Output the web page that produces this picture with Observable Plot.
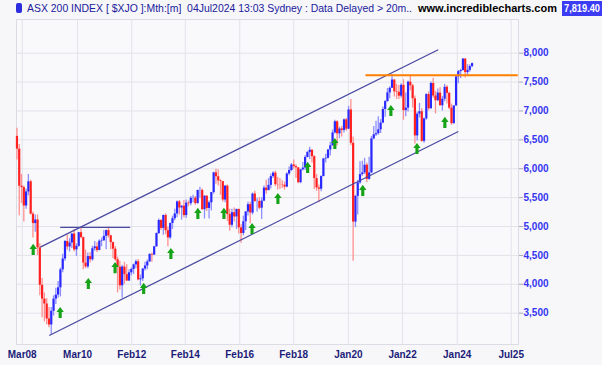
<!DOCTYPE html>
<html><head><meta charset="utf-8">
<script src="https://cdn.jsdelivr.net/npm/d3@7"></script>
<script src="https://cdn.jsdelivr.net/npm/@observablehq/plot@0.6"></script>
<style>
html,body{margin:0;padding:0;background:#f7f7fa;}
#wrap{position:relative;width:602px;height:365px;overflow:hidden;font-family:"Liberation Sans",Arial,sans-serif;}
#hdr{position:absolute;left:0;top:0;width:602px;height:18px;}
#hdr .a{position:absolute;white-space:nowrap;transform-origin:0 50%;display:block;}
#chart{position:absolute;left:0;top:18px;}
</style></head><body>
<div id="wrap">
 <div id="hdr">
  <span class="a" id="mk" style="left:16px;top:3px;width:6px;height:10px;background:#2d2de0;border-radius:2px"></span>
  <span class="a" id="t1" style="left:27px;top:2px;font-size:11px;line-height:13px;color:#20209a">ASX 200 INDEX [ $XJO ]:Mth:[m]&nbsp; 04Jul2024 13:03 Sydney : Data Delayed &gt; 20m..</span>
  <span class="a" id="t2" style="left:418px;top:2px;font-size:11px;line-height:13px;font-weight:bold;color:#000">www.incrediblecharts.com</span>
  <span class="a" id="box" style="left:562px;top:1px;height:15px;width:40px;background:#3c3cf5"></span>
  <span class="a" id="t3" style="left:564px;top:2px;color:#fff;font-size:11px;font-weight:bold;line-height:13px">7,819.40</span>
 </div>
 <div id="chart"></div>
</div>
<script>
// ---- Data: monthly OHLC, ASX 200 ($XJO), Dec 2007 .. Jul 2024 (bar index 0 = Dec 2007) ----
const firstOpen = 6560;
const closes = [
 6340,
 5697,5674,5355,5598,5774,5215,5051,5113,4631,3983,3744,3659,
 3400,3296,3532,3744,3813,3939,4250,4438,4740,4646,4715,4870,
 4596,4657,4893,4808,4367,4301,4479,4424,4616,4647,4585,4746,
 4754,4830,4929,4839,4721,4608,4425,4296,3974,4298,4167,4057,
 4199,4258,4336,4390,4077,4095,4265,4317,4387,4517,4506,4649,
 4878,5104,4967,5191,4927,4803,5052,5135,5218,5426,5321,5352,
 5190,5405,5395,5489,5492,5396,5623,5625,5292,5526,5313,5411,
 5588,5929,5861,5790,5777,5459,5699,5207,5022,5239,5166,5296,
 4977,4880,5082,5252,5378,5233,5562,5433,5435,5317,5440,5665,
 5621,5712,5864,5924,5724,5721,5720,5715,5682,5909,5969,6065,
 6037,6016,5759,5982,6011,6195,6280,6320,6208,5830,5668,5646,
 5865,6169,6181,6325,6397,6619,6813,6604,6688,6663,6846,6684,
 7017,6441,5077,5522,5755,5898,5928,6061,5816,5927,6517,6587,
 6607,6673,6791,7025,7162,7313,7393,7535,7332,7324,7256,7444,
 7006,7049,7499,7435,7211,6568,6945,6987,6474,6863,7284,7039,
 7476,7258,7178,7309,7091,7203,7410,7305,7049,6781,7087,7590,
 7681,7699,7897,7664,7702,7768,7819
];
const highs = [
 6700,
 6420,5900,5700,5650,5900,5800,5250,5200,5200,4700,4100,3850,
 3750,3600,3600,3800,3930,4050,4280,4520,4760,4850,4790,4880,
 4950,4700,4900,4980,4820,4590,4540,4550,4660,4740,4720,4770,
 4800,4930,4940,4990,4850,4730,4650,4470,4400,4330,4380,4340,
 4250,4280,4350,4420,4430,4160,4270,4380,4420,4530,4540,4660,
 4890,5130,5120,5200,5220,4990,5060,5180,5300,5440,5450,5360,
 5450,5460,5440,5520,5540,5520,5630,5680,5650,5530,5530,5440,
 5590,5940,5990,5980,5810,5780,5710,5720,5300,5300,5320,5300,
 5300,5030,5180,5260,5420,5420,5580,5610,5490,5500,5500,5700,
 5800,5830,5910,5950,5960,5850,5830,5790,5770,5930,6030,6090,
 6150,6070,6020,5990,6110,6230,6300,6370,6330,6230,5900,5720,
 5880,6180,6250,6330,6460,6670,6840,6830,6720,6730,6860,6870,
 7080,7200,6550,5540,5800,6120,6130,6180,6100,6200,6560,6730,
 6820,6900,6850,7070,7180,7390,7420,7632,7540,7460,7440,7470,
 7540,7310,7520,7600,7460,7260,6980,7130,7040,6880,7300,7330,
 7500,7567,7340,7380,7400,7250,7460,7440,7330,7120,7090,7600,
 7700,7720,7910,7910,7800,7800,7830
];
const lows = [
 6150,
 5186,5400,5080,5300,5530,5200,4800,4900,4500,3800,3420,3350,
 3300,3250,3121,3450,3650,3760,3780,4200,4400,4590,4560,4620,
 4560,4480,4640,4790,4250,4270,4270,4370,4400,4570,4550,4580,
 4650,4740,4600,4800,4600,4440,4400,3850,3900,3760,4000,4050,
 4050,4150,4170,4270,4060,3970,4050,4230,4250,4380,4380,4500,
 4640,4860,4930,4850,4860,4650,4770,4950,5100,5150,5200,5110,
 5150,5140,5340,5360,5410,5370,5390,5490,5280,5130,5260,5130,
 5270,5560,5730,5700,5540,5420,5410,5090,4920,4980,5080,4950,
 4870,4710,4840,4930,5180,5050,5200,5420,5250,5290,5120,5430,
 5560,5620,5650,5830,5690,5630,5640,5660,5630,5670,5880,5950,
 5990,5830,5740,5740,5960,5970,6190,6160,6100,5640,5610,5410,
 5600,5860,6100,6170,6220,6390,6600,6400,6520,6550,6620,6650,
 6680,6400,4400,4980,5200,5730,5870,5900,5760,5800,5920,6500,
 6560,6580,6610,6780,6890,7150,7210,7390,7240,7200,7200,7220,
 6840,6900,6980,7350,7050,6430,6480,6880,6460,6440,6840,7000,
 7030,7220,6950,7160,7080,7000,7160,7120,7020,6750,6770,7080,
 7470,7560,7690,7570,7600,7670,7750
];

// x-axis tick labels and their bar positions
const tickLabels = ["Mar08","Mar10","Feb12","Feb14","Feb16","Feb18","Jan20","Jan22","Jan24","Jul25"];
const tickBars   = [2.3, 26.5, 50.2, 73.6, 97.4, 121, 144.9, 168.6, 192.5, 216.1];
const yTicks = [3500,4000,4500,5000,5500,6000,6500,7000,7500,8000];

// drawn trend lines (bar index, price)
const channelX1 = [10.2, 14.1, 18.9];
const channelY1 = [4642, 3114, 4984];
const channelX2 = [184.2, 193.0, 49.5];
const channelY2 = [8059, 6645, 4984];
const resistX = [152.6, 219.2];
const resistY = 7619;

// green buy arrows (bar index, price)
const arrowBar   = [7.1,18.9,31.2,42.9,55.4,67.3,79.1,90.5,102.8,114.1,127.1,139.0,151.2,163.5,174.9,187.1];
const arrowPrice = [4603,3512,4014,4290,3928,4533,5226,5226,4966,5485,6022,6437,5624,7008,6350,6801];

// ---- build tables ----
const bars = closes.map((c, i) => {
  const o = i === 0 ? firstOpen : closes[i - 1];
  return {i, o, h: highs[i], l: lows[i], c, up: c >= o};
});
const upBars = bars.filter(d => d.up), dnBars = bars.filter(d => !d.up);
const channels = channelX1.map((x1, k) => ({x1, y1: channelY1[k], x2: channelX2[k], y2: channelY2[k]}));
const resist = [{x1: resistX[0], x2: resistX[1], y: resistY}];
const arrows = arrowBar.map((x, k) => ({x, y: arrowPrice[k]}));
const labelMap = new Map(tickBars.map((t, k) => [t, tickLabels[k]]));

const arrowSymbol = {
  draw(ctx, size) {
    const r = Math.sqrt(size / Math.PI);
    ctx.moveTo(0, -r);
    ctx.lineTo(0.66 * r, -0.08 * r);
    ctx.lineTo(0.28 * r, -0.08 * r);
    ctx.lineTo(0.28 * r, r);
    ctx.lineTo(-0.28 * r, r);
    ctx.lineTo(-0.28 * r, -0.08 * r);
    ctx.lineTo(-0.66 * r, -0.08 * r);
    ctx.closePath();
  }
};

const chart = Plot.plot({
  width: 602, height: 347,
  marginTop: 1, marginBottom: 21, marginLeft: 16, marginRight: 84,
  style: {background: "transparent", fontFamily: "'Liberation Sans', Arial, sans-serif", fontSize: "10px", fontWeight: "bold", overflow: "visible"},
  x: {type: "linear", domain: [-0.2, 219.3]},
  y: {type: "linear", domain: [2958, 8583]},
  marks: [
    Plot.frame({fill: "#f9f9fc", stroke: "none"}),
    Plot.gridX(tickBars, {stroke: "#e2e2ea", strokeOpacity: 1}),
    Plot.gridY(yTicks, {stroke: "#e2e2ea", strokeOpacity: 1}),
    Plot.frame({stroke: "#dcdce4"}),
    Plot.axisY(yTicks, {anchor: "right", tickSize: 4, tickPadding: 1, tickFormat: d3.format(","), stroke: "#a8a8b8", fill: "#3535f0", label: null}),
    Plot.axisX(tickBars, {anchor: "bottom", tickSize: 0, tickPadding: 6, tickFormat: d => labelMap.get(d), fill: "#1c1c78", label: null}),
    Plot.ruleX(upBars, {x: "i", y1: "l", y2: "h", stroke: "#8e8eff", strokeWidth: 1.3}),
    Plot.ruleX(dnBars, {x: "i", y1: "l", y2: "h", stroke: "#ff8e8e", strokeWidth: 1.3}),
    Plot.ruleX(upBars, {x: "i", y1: "o", y2: "c", stroke: "#2828ff", strokeWidth: 2.2}),
    Plot.ruleX(dnBars, {x: "i", y1: "o", y2: "c", stroke: "#ff2020", strokeWidth: 2.2}),
    Plot.link(channels, {x1: "x1", y1: "y1", x2: "x2", y2: "y2", stroke: "#4a4aa0", strokeWidth: 1.3}),
    Plot.ruleY(resist, {x1: "x1", x2: "x2", y: "y", stroke: "#ff8000", strokeWidth: 2}),
    Plot.dot(arrows, {x: "x", y: "y", r: 5.6, symbol: arrowSymbol, fill: "#17a317", stroke: "none"})
  ]
});
document.getElementById("chart").appendChild(chart);

// fit header texts to the reference widths
function fit(id, w) {
  const el = document.getElementById(id);
  const cw = el.getBoundingClientRect().width;
  if (cw > 0) el.style.transform = `scaleX(${w / cw})`;
}
fit("t1", 385);
fit("t2", 139);
fit("t3", 36);
</script>
</body></html>
